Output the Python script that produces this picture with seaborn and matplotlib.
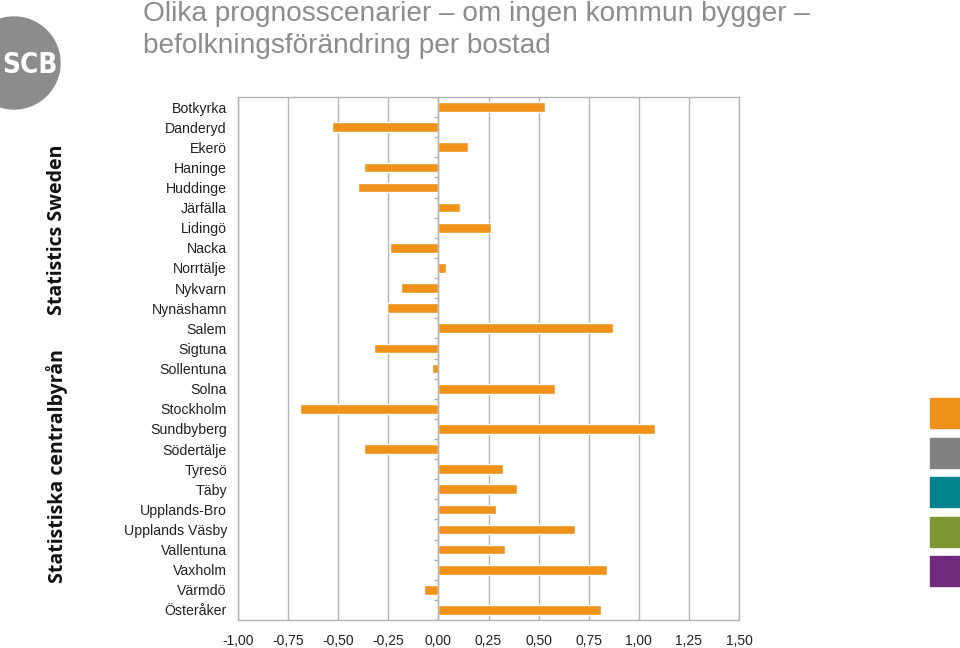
import matplotlib
matplotlib.use("Agg")
import matplotlib.pyplot as plt
import matplotlib.patches as mpatches
import numpy as np
import pandas as pd
import seaborn as sns

kommuner = ['Botkyrka', 'Danderyd', 'Ekerö', 'Haninge', 'Huddinge', 'Järfälla',
            'Lidingö', 'Nacka', 'Norrtälje', 'Nykvarn', 'Nynäshamn', 'Salem',
            'Sigtuna', 'Sollentuna', 'Solna', 'Stockholm', 'Sundbyberg',
            'Södertälje', 'Tyresö', 'Täby', 'Upplands-Bro', 'Upplands Väsby',
            'Vallentuna', 'Vaxholm', 'Värmdö', 'Österåker']
forandring = [0.53, -0.53, 0.15, -0.37, -0.40, 0.11,
              0.26, -0.24, 0.04, -0.185, -0.255, 0.87,
              -0.32, -0.03, 0.58, -0.69, 1.08,
              -0.37, 0.32, 0.39, 0.285, 0.68,
              0.33, 0.84, -0.07, 0.81]
xticks = [-1.0, -0.75, -0.5, -0.25, 0.0, 0.25, 0.5, 0.75, 1.0, 1.25, 1.5]
xticklabels = ['-1,00', '-0,75', '-0,50', '-0,25', '0,00', '0,25', '0,50',
               '0,75', '1,00', '1,25', '1,50']
title_lines = ['Olika prognosscenarier – om ingen kommun bygger –',
               'befolkningsförändring per bostad']
side_colors = ['#F0921A', '#808080', '#00838D', '#7E9733', '#712A7E']

df = pd.DataFrame({'kommun': kommuner, 'varde': forandring})

sns.set_style('white')
plt.rcParams['font.family'] = ['Liberation Sans', 'DejaVu Sans']

fig = plt.figure(figsize=(9.6, 6.48), dpi=100)
ax = fig.add_axes([238 / 960, 1 - 620 / 648, (739 - 238) / 960, (620 - 97) / 648])

sns.barplot(data=df, x='varde', y='kommun', orient='h', color='#F0921A',
            saturation=1, width=0.48, ax=ax)

grid_c = '#B3B3B3'
ax.set_xlim(-1.0, 1.5)
ax.set_ylim(len(kommuner) - 0.5, -0.5)
ax.set_xticks(xticks)
ax.set_xticklabels(xticklabels, fontsize=10, color='#222222')
ax.set_xlabel('')
ax.set_ylabel('')
ax.tick_params(axis='y', length=0, labelsize=10.2, labelcolor='#222222', pad=8)
ax.tick_params(axis='x', length=4, color=grid_c, direction='out', pad=6, width=1)
ax.xaxis.grid(True, color=grid_c, linewidth=1)
ax.set_axisbelow(True)
for s in ax.spines.values():
    s.set_color(grid_c)
    s.set_linewidth(1)

# vertical axis at zero with category separator ticks
ax.axvline(0, color=grid_c, linewidth=1, zorder=1)
bounds = np.arange(len(kommuner) + 1) - 0.5
ax.hlines(bounds, -0.02, 0, color=grid_c, linewidth=1, zorder=1)

fig.text(143 / 960, 1 - 14 / 648, title_lines[0], fontsize=20.2, color='#8C8C8C',
         ha='left', va='center')
fig.text(143 / 960, 1 - 46 / 648, title_lines[1], fontsize=20.2, color='#8C8C8C',
         ha='left', va='center')

# SCB logo
logo = mpatches.Ellipse((14 / 960, 1 - 63 / 648), 92 / 960, 92 / 648,
                        transform=fig.transFigure, color='#8C8C8C', zorder=0)
fig.patches.append(logo)
fig.text(30 / 960, 1 - 65 / 648, 'SCB', fontsize=20, color='white',
         fontweight='bold', ha='center', va='center', family='DejaVu Sans',
         fontstretch='condensed')

fig.text(57 / 960, 1 - 230 / 648, 'Statistics Sweden', rotation=90, fontsize=14,
         fontweight='bold', ha='center', va='center', color='#111111',
         family=['Open Sans', 'DejaVu Sans'])
fig.text(57 / 960, 1 - 466 / 648, 'Statistiska centralbyrån', rotation=90, fontsize=14,
         fontweight='bold', ha='center', va='center', color='#111111',
         family=['Open Sans', 'DejaVu Sans'])

for i, c in enumerate(side_colors):
    top = [398, 438, 477, 517, 556][i]
    fig.patches.append(mpatches.Rectangle((930 / 960, 1 - (top + 30) / 648), 30 / 960, 30 / 648,
                                          transform=fig.transFigure, color=c))

fig.savefig('out.png', dpi=100)
